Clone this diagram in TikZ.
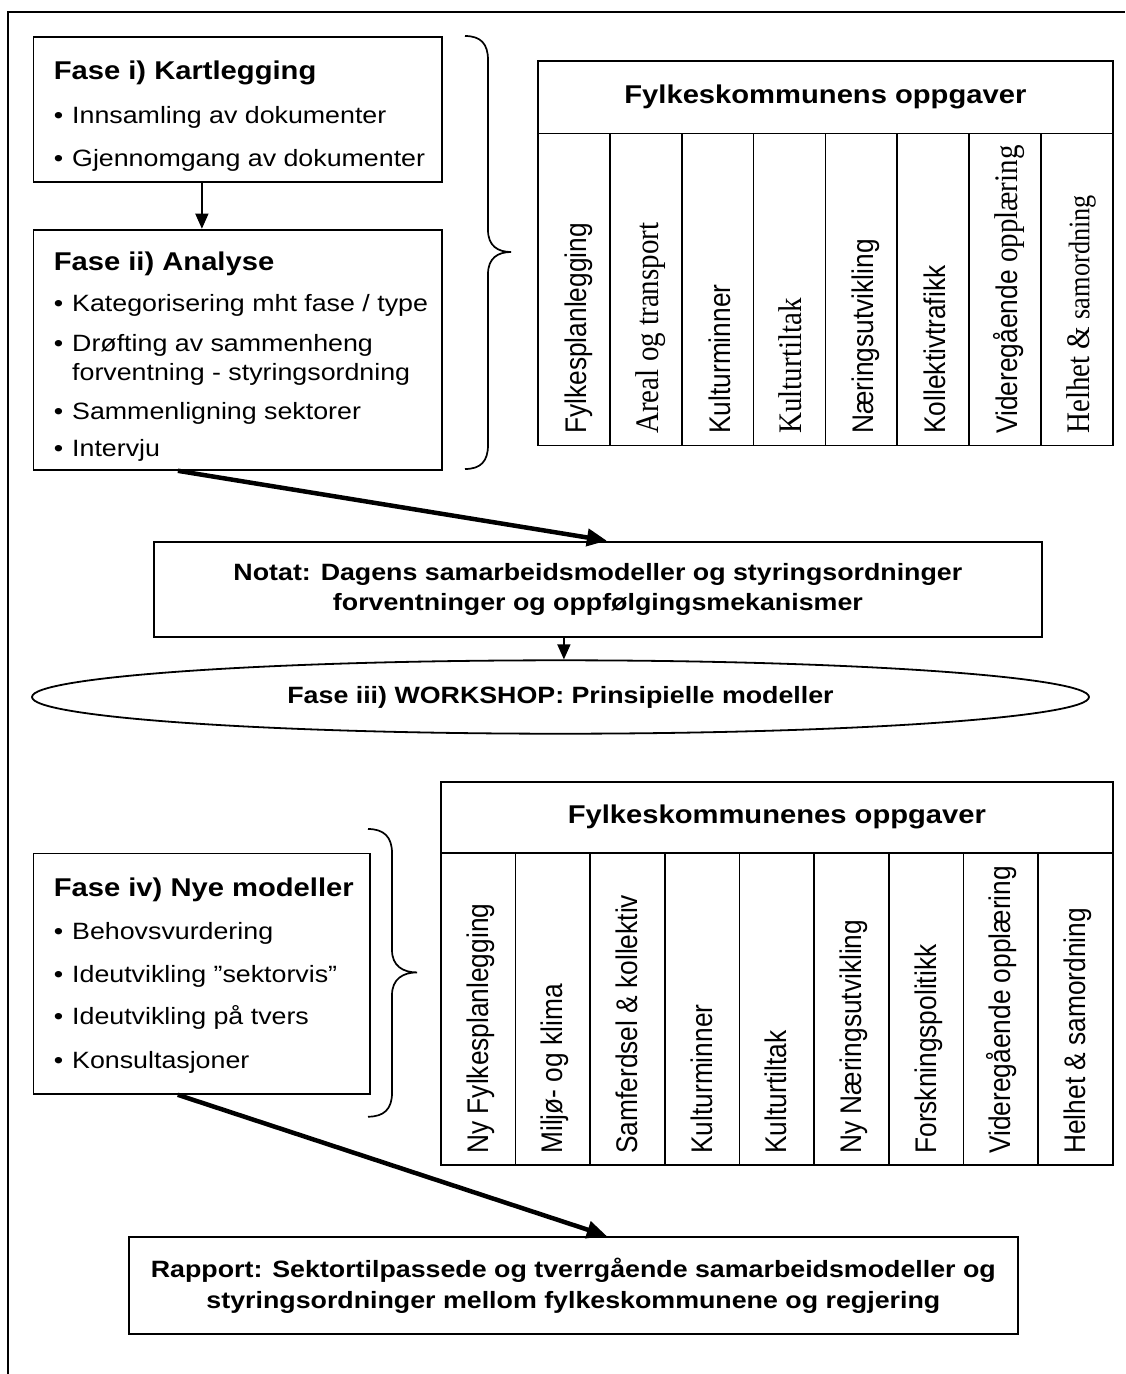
\documentclass[tikz,border=0pt]{standalone}
\usepackage{graphicx}
\usepackage{fontspec}
\setmainfont{Liberation Sans}
\newfontfamily\tnr{Liberation Serif}
\usetikzlibrary{arrows.meta,shapes.geometric}

% horizontally widened lettering (and its rotated counterpart)
\newcommand\hs[1]{\scalebox{1.135}[1]{#1}}
\newcommand\vs[1]{\scalebox{1}[1.135]{#1}}
\newcommand\bul{\makebox[16.2pt][l]{\textbullet}}
\newcommand\fbody{\fontsize{23.6}{30}\selectfont}
\newcommand\fbold{\fontsize{23.6}{30}\selectfont\bfseries}
\newcommand\ftitle{\fontsize{25.7}{30}\selectfont\bfseries}
\newcommand\fcol{\fontsize{26.3}{30}\selectfont}
\newcommand\fser{\tnr\fontsize{29}{30}\selectfont}

\begin{document}
\begin{tikzpicture}[x=1pt,y=-1pt,
  box/.style={draw, line width=1.8pt, rectangle, inner sep=0pt, anchor=north west},
  txt/.style={inner sep=0pt, anchor=base west},
  rot/.style={inner sep=0pt, anchor=base west, rotate=90},
  brace line/.style={line width=1.7pt},
  thin arrow/.style={line width=1.5pt, -{Triangle[length=15pt,width=13pt]}},
  thick arrow/.style={line width=4.5pt, -{Triangle[length=20pt,width=17pt]}}]
\useasboundingbox (0,0) rectangle (1125,1374);

% outer frame
\draw[line width=1.7pt] (8,1374) -- (8,12) -- (1125,12);

% ---------- phase i ----------
\node[box, minimum width=408.5pt, minimum height=144.7pt] (k1) at (32.5,36) {};
\node[txt] (k1t) at (53.6,79.3) {\hs{\ftitle Fase i) Kartlegging}};
\node[txt] (k1a) at (53.6,123.3) {\hs{\fbody\bul Innsamling av dokumenter}};
\node[txt] (k1b) at (53.6,166.7) {\hs{\fbody\bul Gjennomgang av dokumenter}};

% ---------- phase ii ----------
\node[box, minimum width=408.5pt, minimum height=240.3pt] (k2) at (32.5,228.7) {};
\node[txt] (k2t) at (53.6,270.7) {\hs{\ftitle Fase ii) Analyse}};
\node[txt] (k2a) at (53.6,311.7) {\hs{\fbody\bul Kategorisering mht fase / type}};
\node[txt] (k2b) at (53.6,351.7) {\hs{\fbody\bul Drøfting av sammenheng}};
\node[txt] (k2c) at (72,380.5) {\hs{\fbody forventning - styringsordning}};
\node[txt] (k2d) at (53.6,419) {\hs{\fbody\bul Sammenligning sektorer}};
\node[txt] (k2e) at (53.6,456) {\hs{\fbody\bul Intervju}};

\draw[thin arrow] ([xshift=-35.75pt]k1.south) -- ([xshift=-35.75pt]k2.north);

% brace towards the first task table
\draw[brace line] (465,36) .. controls (481,36) and (488,44) .. (488,60)
  -- (488,230) .. controls (488,246) and (498,252) .. (511,252)
  .. controls (498,252) and (488,258) .. (488,274)
  -- (488,445) .. controls (488,461) and (481,469) .. (465,469);

% ---------- first task table ----------
\node[box, minimum width=575pt, minimum height=72.5pt] (t1h) at (537,60)
  {\hs{\ftitle Fylkeskommunens oppgaver}};
\foreach \t [count=\i] in {
  {\fcol Fylkesplanlegging},
  {\fser Areal og transport},
  {\fcol Kulturminner},
  {\fser Kulturtiltak},
  {\fcol Næringsutvikling},
  {\fcol Kollektivtrafikk},
  {\fcol Videregående \fser opplæring},
  {\fser Helhet \& \fcol samordning}} {
  \node[box, minimum width=71.875pt, minimum height=312pt] (t1c\i)
    at ({537+71.875*(\i-1)},132.5) {};
  \node[rot] (t1l\i) at ([xshift=12.5pt,yshift=12.5pt]t1c\i.south) {\vs{\t}};
}

% ---------- memo ----------
\node[box, minimum width=888pt, minimum height=95.3pt, align=center, font=\fbold]
  (notat) at (153,540.7)
  {\hs{\fbold Notat: Dagens samarbeidsmodeller og styringsordninger}\\
   \hs{\fbold forventninger og oppfølgingsmekanismer}};
\draw[thick arrow] ([xshift=-59.75pt]k2.south) -- ([xshift=9pt]notat.north);

% ---------- workshop ----------
\node[draw, ellipse, line width=1.8pt, inner sep=0pt, minimum width=1057pt, minimum height=73.4pt]
  (ws) at (560.5,697) {\raisebox{-3pt}{\hs{\fbold Fase iii) WORKSHOP: Prinsipielle modeller}}};
\draw[thin arrow] ([xshift=-34pt]notat.south) -- ([xshift=-34pt]notat.south |- ws.north);

% ---------- phase iv ----------
\node[box, minimum width=336.8pt, minimum height=240.4pt] (k4) at (32.5,852.6) {};
\node[txt] (k4t) at (53.6,896) {\hs{\ftitle Fase iv) Nye modeller}};
\node[txt] (k4a) at (53.6,939.9) {\hs{\fbody\bul Behovsvurdering}};
\node[txt] (k4b) at (53.6,982.7) {\hs{\fbody\bul Ideutvikling ”sektorvis”}};
\node[txt] (k4c) at (53.6,1024.8) {\hs{\fbody\bul Ideutvikling på tvers}};
\node[txt] (k4d) at (53.6,1068.5) {\hs{\fbody\bul Konsultasjoner}};

% brace towards the second task table
\draw[brace line] (368,829) .. controls (384,829) and (392,837) .. (392,853)
  -- (392,950) .. controls (392,966) and (403,972.4) .. (417,972.4)
  .. controls (403,972.4) and (392,979) .. (392,995)
  -- (392,1093) .. controls (392,1109) and (384,1116.7) .. (368,1116.7);

% ---------- second task table ----------
\node[box, minimum width=672pt, minimum height=71.6pt] (t2h) at (440,780.7)
  {\hs{\ftitle Fylkeskommunenes oppgaver}};
\foreach \t [count=\i] in {
  Ny Fylkesplanlegging,
  Miljø- og klima,
  Samferdsel \& kollektiv,
  Kulturminner,
  Kulturtiltak,
  Ny Næringsutvikling,
  Forskningspolitikk,
  Videregående opplæring,
  Helhet \& samordning} {
  \node[box, minimum width=74.667pt, minimum height=311.7pt] (t2c\i)
    at ({440+74.667*(\i-1)},852.3) {};
  \node[rot] (t2l\i) at ([xshift=10pt,yshift=12pt]t2c\i.south) {\vs{\fcol\t}};
}

% ---------- report ----------
\node[box, minimum width=889.5pt, minimum height=97.3pt, align=center, font=\fontsize{23.6}{31.5}\selectfont]
  (rap) at (127.7,1236)
  {\hs{\fbold Rapport: Sektortilpassede og tverrgående samarbeidsmodeller og}\\
   \hs{\fbold styringsordninger mellom fylkeskommunene og regjering}};
\draw[thick arrow] ([xshift=-24pt]k4.south) -- ([xshift=33.5pt]rap.north);
\end{tikzpicture}
\end{document}
